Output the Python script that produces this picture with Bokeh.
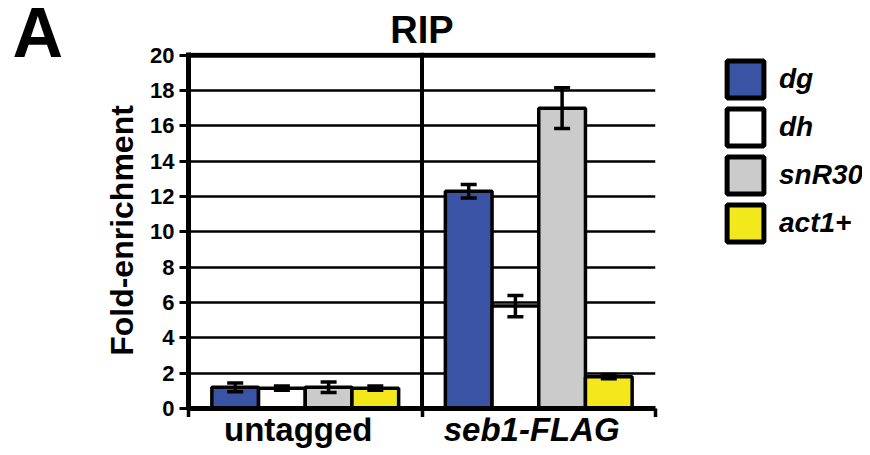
from bokeh.plotting import figure
from bokeh.layouts import row, column
from bokeh.models import (ColumnDataSource, Whisker, TeeHead, Span, Label, Legend,
                          LegendItem, FixedTicker, Range1d)
from bokeh.embed import file_html
from bokeh.resources import INLINE

# ---- data ----
groups = ["untagged", "seb1-FLAG"]
group_styles = ["bold", "bold italic"]
targets = ["dg", "dh", "snR30", "act1+"]
colors = ["#3A53A4", "#FFFFFF", "#CBCBCB", "#F2E81C"]
untagged_mean = [1.2, 1.15, 1.2, 1.15]
untagged_err = [0.25, 0.12, 0.3, 0.12]
seb1_mean = [12.3, 5.8, 17.0, 1.8]
seb1_err = [0.38, 0.6, 1.15, 0.12]
y_ticks = [0, 2, 4, 6, 8, 10, 12, 14, 16, 18, 20]

# ---- layout (pixels) ----
FONT = "Liberation Sans"
LEFT_W = 100          # strip holding the panel letter
L, R, T, B = 88, 3, 6, 9
FRAME_W = 467
MAIN_W = L + FRAME_W + R
LEG_W = 862 - LEFT_W - MAIN_W
TOP_H = 46
MAIN_H = 371
BOT_H = 31
TOTAL_H = TOP_H + MAIN_H + BOT_H
X0, X1 = -0.5, len(groups) - 0.5
Y0, Y1 = 0, 20.15

common = dict(output_backend="svg", toolbar_location=None, title=None)

# ---- main chart ----
p = figure(width=MAIN_W, height=MAIN_H, x_range=Range1d(X0, X1), y_range=Range1d(Y0, Y1),
           min_border_left=L, min_border_right=R, min_border_top=T, min_border_bottom=B,
           **common)
p.outline_line_color = None
p.xgrid.grid_line_color = None
p.ygrid.grid_line_color = "black"
p.ygrid.grid_line_width = 2.5
p.ygrid.ticker = FixedTicker(ticks=y_ticks)

p.yaxis.ticker = FixedTicker(ticks=y_ticks)
p.yaxis.axis_line_width = 5
p.yaxis.axis_line_color = "black"
p.yaxis.major_tick_line_width = 3
p.yaxis.major_tick_line_color = "black"
p.yaxis.major_tick_out = 9
p.yaxis.major_tick_in = 0
p.yaxis.minor_tick_line_color = None
p.yaxis.major_label_text_font = FONT
p.yaxis.major_label_text_font_style = "bold"
p.yaxis.major_label_text_font_size = "22px"
p.yaxis.major_label_text_color = "black"
p.yaxis.major_label_standoff = 5
p.yaxis.axis_label = "Fold-enrichment"
p.yaxis.axis_label_text_font = FONT
p.yaxis.axis_label_text_font_style = "bold"
p.yaxis.axis_label_text_font_size = "32px"
p.yaxis.axis_label_text_color = "black"
p.yaxis.axis_label_standoff = 7

p.xaxis.ticker = FixedTicker(ticks=[], minor_ticks=[X0 + i for i in range(len(groups) + 1)])
p.xaxis.axis_line_width = 5
p.xaxis.axis_line_color = "black"
p.xaxis.minor_tick_line_width = 3.5
p.xaxis.minor_tick_line_color = "black"
p.xaxis.minor_tick_out = 9
p.xaxis.minor_tick_in = 0
p.xaxis.major_label_standoff = 0

bw = 0.2
offsets = [(i - (len(targets) - 1) / 2) * bw for i in range(len(targets))]
wx, wu, wl = [], [], []
sources = []
for i, t in enumerate(targets):
    xs = [g + offsets[i] for g in range(len(groups))]
    tops = [untagged_mean[i], seb1_mean[i]]
    errs = [untagged_err[i], seb1_err[i]]
    src = ColumnDataSource(dict(x=xs, top=tops, mid=[v / 2 for v in tops]))
    sources.append(src)
    p.vbar(x="x", top="top", width=bw, bottom=0, source=src,
           fill_color=colors[i], line_color="black", line_width=3.5)
    wx += xs
    wu += [m + e for m, e in zip(tops, errs)]
    wl += [m - e for m, e in zip(tops, errs)]

wsrc = ColumnDataSource(dict(base=wx, upper=wu, lower=wl))
p.add_layout(Whisker(base="base", upper="upper", lower="lower", source=wsrc,
                     line_width=3.5, line_color="black", level="annotation",
                     upper_head=TeeHead(size=16, line_width=3.5, line_color="black"),
                     lower_head=TeeHead(size=16, line_width=3.5, line_color="black")))

p.add_layout(Span(location=y_ticks[-1], dimension="width", line_color="black", line_width=5))
p.add_layout(Span(location=X0 + 1, dimension="height", line_color="black", line_width=4))

# Label "alphabetic" anchors sit ~0.37 em above the drawn baseline in this renderer
SHIFT = 0.37

# ---- title strip ----
top = figure(width=MAIN_W, height=TOP_H, x_range=p.x_range, y_range=Range1d(TOP_H, 0),
             min_border_left=L, min_border_right=R, min_border_top=0, min_border_bottom=0,
             x_axis_type=None, y_axis_type=None, **common)
top.outline_line_color = None
top.add_layout(Label(x=X0 + 1, y=44 - SHIFT * 38, text="RIP", text_font=FONT,
                     text_font_style="bold", text_font_size="38px", text_color="black",
                     text_align="center", text_baseline="alphabetic"))

# ---- group label strip ----
bot = figure(width=MAIN_W, height=BOT_H, x_range=p.x_range, y_range=Range1d(BOT_H, 0),
             min_border_left=L, min_border_right=R, min_border_top=0, min_border_bottom=0,
             x_axis_type=None, y_axis_type=None, **common)
bot.outline_line_color = None
for gi, (g, st) in enumerate(zip(groups, group_styles)):
    bot.add_layout(Label(x=gi, y=24 - SHIFT * 33, x_offset=-7, text=g, text_font=FONT,
                         text_font_style=st, text_font_size="33px", text_color="black",
                         text_align="center", text_baseline="alphabetic"))

# ---- panel letter strip ----
side = figure(width=LEFT_W, height=TOTAL_H, x_range=Range1d(0, LEFT_W),
              y_range=Range1d(TOTAL_H, 0), min_border=0,
              x_axis_type=None, y_axis_type=None, **common)
side.outline_line_color = None
side.add_layout(Label(x=12, y=58 - SHIFT * 70, text="A", text_font=FONT, text_font_style="bold",
                      text_font_size="70px", text_color="black",
                      text_align="left", text_baseline="alphabetic"))

# ---- legend strip: swatch renderers reuse the bar sources, viewed far outside this strip ----
leg = figure(width=LEG_W, height=TOTAL_H, x_range=Range1d(1000, 1001),
             y_range=Range1d(-1000, -999), min_border=0,
             x_axis_type=None, y_axis_type=None, **common)
leg.outline_line_color = None
leg.grid.visible = False
items = []
for i, t in enumerate(targets):
    r = leg.rect(x="x", y="mid", width=bw, height="top", source=sources[i],
                 fill_color=colors[i], line_color="black", line_width=5)
    items.append(LegendItem(label=t, renderers=[r]))
legend = Legend(items=items, location=(64, 202), glyph_width=46, glyph_height=46,
                spacing=2, label_standoff=11, padding=10, margin=0,
                border_line_color=None, background_fill_alpha=0,
                label_text_font=FONT, label_text_font_style="bold italic",
                label_text_font_size="28px", label_text_color="black")
leg.add_layout(legend, "center")

layout = row(side, column(top, p, bot, spacing=0), leg, spacing=0)
open("out.html", "w").write(file_html(layout, INLINE))
